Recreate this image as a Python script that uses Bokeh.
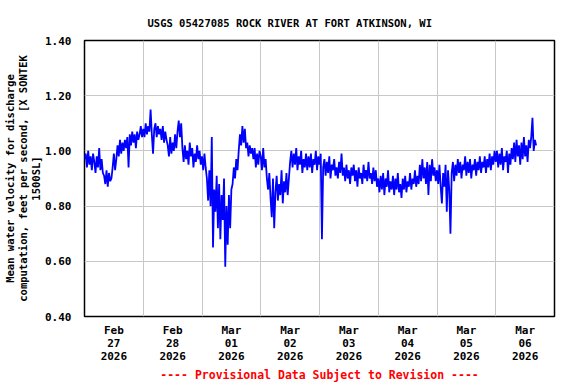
from bokeh.plotting import figure
from bokeh.models import FixedTicker, Title, Range1d, PrintfTickFormatter, ColumnDataSource
from bokeh.embed import file_html
from bokeh.resources import INLINE

# ---------------- text ----------------
title_text = "USGS 05427085 ROCK RIVER AT FORT ATKINSON, WI"
y_label = "Mean water velocity for discharge\ncomputation, feet per second, [X SONTEK\n1500SL]"
footer_text = "---- Provisional Data Subject to Revision ----"

# ---------------- axes ----------------
day_labels = ["Feb\n27\n2026", "Feb\n28\n2026", "Mar\n01\n2026", "Mar\n02\n2026",
              "Mar\n03\n2026", "Mar\n04\n2026", "Mar\n05\n2026", "Mar\n06\n2026"]
day_label_hours = [12, 36, 60, 84, 108, 132, 156, 180]      # noon of each day (hours since Feb 27 00:00)
midnight_hours = [24, 48, 72, 96, 120, 144, 168]
y_ticks = [0.40, 0.60, 0.80, 1.00, 1.20, 1.40]
y_grid = [0.60, 0.80, 1.00, 1.20]

# ---------------- data (half-hourly readings, ft/s) ----------------
step_hours = 0.5
vel_feb27 = [0.97, 0.99, 0.94, 1.00, 0.95, 0.98, 0.93, 0.99, 0.96, 0.92, 0.98, 0.94, 1.01, 0.93, 0.97, 0.92,
             0.91, 0.88, 0.93, 0.87, 0.92, 0.89, 0.90,
             0.94, 0.99, 0.93, 0.97,
             1.02, 0.98, 1.04, 0.99, 1.03, 1.00, 1.04, 1.01,
             1.05, 0.94, 1.06, 1.02, 1.07, 1.03, 1.06, 1.01, 1.07, 1.04, 1.06,
             1.09, 1.05]
vel_feb28 = [1.08, 1.05, 1.10, 1.06, 1.09, 1.07, 1.15, 1.06, 0.99, 1.08, 1.10, 1.05, 1.09, 1.06,
             1.08, 1.04, 1.09, 1.03, 1.07, 1.04,
             1.02, 0.98, 1.05, 0.99, 1.03, 1.00, 1.06, 1.01,
             1.07, 1.11, 1.05, 1.10,
             1.01, 0.96, 1.02, 0.97, 1.00, 0.95, 1.03, 0.98, 1.01, 0.94, 0.99, 0.96, 1.02, 0.97, 1.00, 0.95]
vel_mar01 = [0.98, 0.93, 0.99, 0.94,
             0.90, 0.82, 0.93, 0.80,
             1.05, 0.65,
             0.86, 0.78, 0.91,
             0.72, 0.88, 0.68, 0.84, 0.75, 0.90, 0.58, 0.80, 0.66, 0.84, 0.72, 0.86,
             0.88, 0.94, 0.90, 0.97, 0.93,
             1.00, 1.06, 1.02, 1.09, 1.03, 1.08, 1.01,
             1.03, 0.98, 1.02, 0.99, 1.01,
             0.97, 1.01, 0.94, 0.99, 0.95, 1.00]
vel_mar02 = [0.98, 0.93, 1.01, 0.94, 0.97, 0.90,
             0.86, 0.92, 0.83, 0.76, 0.90, 0.72, 0.85, 0.91, 0.82, 0.88, 0.84, 0.93, 0.81, 0.89, 0.85, 0.92, 0.84, 0.90,
             0.96, 1.00, 0.94, 0.99, 0.95, 1.01, 0.93, 0.98, 0.95, 1.00, 0.92, 0.97, 0.94, 0.99,
             0.93, 0.98, 0.94, 0.99, 0.92, 0.97, 0.95, 1.00, 0.93, 0.98]
vel_mar03 = [0.95, 0.99, 0.68, 0.94,
             0.97, 0.91, 0.96, 0.92, 0.98, 0.90, 0.95, 0.93, 0.97, 0.91, 0.94, 0.90, 0.96, 0.92, 0.99, 0.91,
             0.94, 0.89, 0.95, 0.90, 0.93, 0.88, 0.94, 0.91, 0.95, 0.89, 0.93, 0.87, 0.94, 0.90,
             0.92, 0.88, 0.95, 0.90, 0.93, 0.89, 0.96, 0.90, 0.92, 0.88, 0.94, 0.89, 0.93, 0.87]
vel_mar04 = [0.90, 0.85, 0.91, 0.86, 0.92, 0.84, 0.90, 0.87, 0.93, 0.85, 0.89, 0.86, 0.91, 0.84, 0.90, 0.86, 0.92,
             0.85, 0.88, 0.83, 0.90, 0.86, 0.91, 0.85, 0.89, 0.87, 0.92, 0.86, 0.90, 0.88, 0.93, 0.87, 0.91, 0.88,
             0.95, 0.89, 0.97, 0.90, 0.94, 0.88, 0.96, 0.84, 0.95, 0.89, 0.97, 0.91, 0.94, 0.89]
vel_mar05 = [0.93, 0.88, 0.95, 0.87,
             0.81, 0.92,
             0.87, 0.95, 0.78, 0.93, 0.86, 0.70,
             0.92, 0.96, 0.89, 0.95,
             0.91, 0.97, 0.92, 0.96, 0.90, 0.95, 0.93, 0.98, 0.91, 0.96, 0.92, 0.97, 0.90,
             0.95, 0.93, 0.97, 0.91, 0.96, 0.93, 0.98, 0.92, 0.96, 0.94, 0.98, 0.92, 0.97,
             0.94, 0.99, 0.93, 0.98, 0.95, 1.00]
vel_mar06 = [0.96, 1.00, 0.94, 0.99, 0.95, 1.01, 0.93, 0.98, 0.96, 1.00, 0.92, 0.99, 0.95, 1.01,
             0.97, 1.03, 0.96, 1.04, 0.98, 1.02, 0.95, 1.03, 0.97, 1.05, 0.98, 1.02, 0.96, 1.04,
             1.01, 1.05, 1.12, 1.00, 1.04, 1.02]

velocity = vel_feb27 + vel_feb28 + vel_mar01 + vel_mar02 + vel_mar03 + vel_mar04 + vel_mar05 + vel_mar06
hours = [i * step_hours for i in range(len(velocity))]
source = ColumnDataSource(data=dict(hours=hours, velocity=velocity))

FONT = "DejaVu Sans Mono"

p = figure(width=576, height=384,
           x_range=Range1d(0, 192), y_range=Range1d(0.40, 1.40),
           output_backend="svg", toolbar_location=None,
           min_border_left=84, min_border_right=22, min_border_top=40, min_border_bottom=68)
p.background_fill_color = "white"
p.border_fill_color = "white"
p.outline_line_color = "black"
p.outline_line_width = 1.5

p.line("hours", "velocity", source=source, line_color="#0000ff", line_width=1.8)

# title
p.title.text = title_text
p.title.align = "left"
p.title.offset = 63
p.title.text_font = FONT
p.title.text_font_size = "10.5px"
p.title.text_font_style = "bold"
p.title.text_color = "black"
p.title.standoff = 23

# footer
p.add_layout(Title(text=footer_text, align="center", text_color="red", text_font=FONT,
                   text_font_size="11.5px", text_font_style="bold", standoff=0), "below")

# x axis
xa = p.xaxis[0]
xa.ticker = FixedTicker(ticks=day_label_hours)
xa.major_label_overrides = {h: lab for h, lab in zip(day_label_hours, day_labels)}
xa.major_label_text_font = FONT
xa.major_label_text_font_size = "11px"
xa.major_label_text_font_style = "bold"
xa.major_label_text_color = "black"
xa.major_label_text_line_height = 1.0
xa.major_tick_out = 0
xa.major_tick_in = 0
xa.minor_tick_out = 0
xa.minor_tick_in = 0
xa.axis_line_color = None
xa.major_label_standoff = 7

# y axis
ya = p.yaxis[0]
ya.ticker = FixedTicker(ticks=y_ticks)
ya.formatter = PrintfTickFormatter(format="%.2f")
ya.major_label_text_font = FONT
ya.major_label_text_font_size = "11px"
ya.major_label_text_font_style = "bold"
ya.major_label_text_color = "black"
ya.major_tick_out = 0
ya.major_tick_in = 0
ya.minor_tick_out = 0
ya.minor_tick_in = 0
ya.axis_line_color = None
ya.major_label_standoff = 13
ya.axis_label = y_label
ya.axis_label_text_font = FONT
ya.axis_label_text_font_size = "10.5px"
ya.axis_label_text_font_style = "bold"
ya.axis_label_text_color = "black"
ya.axis_label_text_line_height = 1.1
ya.axis_label_standoff = 0

# grids
p.xgrid.ticker = FixedTicker(ticks=midnight_hours)
p.ygrid.ticker = FixedTicker(ticks=y_grid)
p.xgrid.grid_line_color = "#c8c8c8"
p.ygrid.grid_line_color = "#c8c8c8"
p.xgrid.grid_line_width = 1
p.ygrid.grid_line_width = 1

open("out.html", "w").write(file_html(p, INLINE))
